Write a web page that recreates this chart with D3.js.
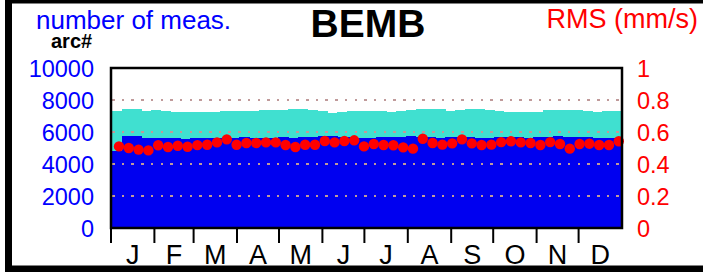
<!DOCTYPE html>
<html><head><meta charset="utf-8">
<script src="https://cdn.jsdelivr.net/npm/d3@7"></script>
<style>
html,body{margin:0;padding:0;background:#fff;}
svg{display:block;font-family:"Liberation Sans",Arial,sans-serif;}
</style></head>
<body>
<svg id="c" width="703" height="272"></svg>
<script>
// ---- data ----
const weeks = d3.range(1, 53);
const arcs = [7290,7460,7420,7300,7400,7330,7250,7250,7260,7230,7250,7330,7330,7290,7290,7350,7350,7370,7440,7440,7400,7290,7210,7260,7290,7290,7290,7290,7250,7340,7380,7440,7460,7420,7330,7350,7420,7420,7370,7300,7250,7250,7260,7270,7350,7400,7380,7350,7300,7280,7330,7330];
const meas = [4790,5730,5730,5600,5600,5650,5650,5580,5600,5620,5640,5620,5640,5660,5650,5640,5620,5660,5640,5660,5680,5720,5720,5700,5660,5650,5640,5660,5700,5700,5740,5700,5660,5650,5660,5700,5700,5650,5640,5660,5680,5660,5650,5660,5700,5720,5700,5680,5660,5650,5640,5600];
const rms = [0.510,0.500,0.490,0.485,0.517,0.506,0.514,0.508,0.518,0.520,0.535,0.554,0.520,0.531,0.531,0.535,0.535,0.519,0.506,0.520,0.520,0.544,0.535,0.544,0.548,0.510,0.525,0.519,0.517,0.504,0.496,0.558,0.531,0.521,0.529,0.554,0.529,0.519,0.521,0.537,0.542,0.535,0.531,0.519,0.537,0.525,0.496,0.525,0.527,0.519,0.519,0.542];
const monthLabels = ["J","F","M","A","M","J","J","A","S","O","N","D"];
const monthStartDays = [0,31,59,90,120,151,181,212,243,273,304,334];
const leftTicks = [0,2000,4000,6000,8000,10000];
const rightTicks = [0,0.2,0.4,0.6,0.8,1];
const gridTicks = [2000,4000,6000,8000];

// ---- layout ----
const L = 111, R = 622, T = 68, B = 228;
const svg = d3.select("#c");
const x = d3.scaleLinear().domain([0, 365]).range([L, R]);
const yL = d3.scaleLinear().domain([0, 10000]).range([B, T]);
const yR = d3.scaleLinear().domain([0, 1]).range([B, T]);
const wk0 = 0.63; // day offset of week boundaries

function barX0(i){ return x(i === 0 ? 0 : wk0 + 7 * i); }
function barX1(i){ return x(Math.min(365, wk0 + 7 * i + 7)); }
function dotX(i){ return x(wk0 + 7 * i + 5.07); }

svg.append("rect").attr("width",703).attr("height",272).attr("fill","#fff");

// bars
svg.append("g").attr("shape-rendering","crispEdges").selectAll("rect").data(weeks).join("rect")
  .attr("x",(d,i)=>barX0(i)).attr("width",(d,i)=>barX1(i)-barX0(i)+0.6)
  .attr("y",(d,i)=>yL(arcs[i])).attr("height",(d,i)=>B-yL(arcs[i]))
  .attr("fill","#40e0d0");
svg.append("g").attr("shape-rendering","crispEdges").selectAll("rect").data(weeks).join("rect")
  .attr("x",(d,i)=>barX0(i)).attr("width",(d,i)=>barX1(i)-barX0(i)+0.6)
  .attr("y",(d,i)=>yL(meas[i])).attr("height",(d,i)=>B-yL(meas[i]))
  .attr("fill","#0000f0");

// grid
svg.append("g").attr("shape-rendering","crispEdges").selectAll("line").data(gridTicks).join("line")
  .attr("x1",L+1).attr("x2",R).attr("y1",d=>yL(d)).attr("y2",d=>yL(d))
  .attr("stroke","#c09a9a").attr("stroke-width",2).attr("stroke-dasharray","2.5 7.2");

// dots
svg.append("g").selectAll("circle").data(weeks).join("circle")
  .attr("cx",(d,i)=>dotX(i)).attr("cy",(d,i)=>yR(rms[i])).attr("r",5.2)
  .attr("fill","#ff0000");

// plot frame
svg.append("rect").attr("x",L).attr("y",T).attr("width",R-L).attr("height",B-T)
  .attr("fill","none").attr("stroke","#000").attr("stroke-width",2.5);

// month ticks
svg.append("g").selectAll("line").data(monthStartDays).join("line")
  .attr("x1",d=>x(d)).attr("x2",d=>x(d)).attr("y1",B).attr("y2",243)
  .attr("stroke","#000").attr("stroke-width",2);
svg.append("g").selectAll("text").data(monthLabels).join("text")
  .attr("x",(d,i)=>(x(monthStartDays[i]) + x(i<11?monthStartDays[i+1]:365))/2)
  .attr("y",264).attr("text-anchor","middle").attr("font-size",27).attr("fill","#000")
  .text(d=>d);

// left axis
const axL = svg.append("g").attr("transform","translate(94,0)")
  .call(d3.axisLeft(yL).tickValues(leftTicks).tickSize(0).tickPadding(0).tickFormat(d3.format("d")));
axL.select(".domain").remove();
axL.selectAll("text").attr("fill","#0000ff").attr("font-size",23.5)
  .attr("font-family","Liberation Sans, Arial, sans-serif").attr("dy","0.36em");

// right axis
const axR = svg.append("g").attr("transform","translate(637,0)")
  .call(d3.axisRight(yR).tickValues(rightTicks).tickSize(0).tickPadding(0).tickFormat(d=>String(d)));
axR.select(".domain").remove();
axR.selectAll("text").attr("fill","#ff0000").attr("font-size",23.5)
  .attr("font-family","Liberation Sans, Arial, sans-serif").attr("dy","0.36em");

// titles
svg.append("text").attr("x",36).attr("y",29).attr("font-size",26).attr("fill","#0000ff").text("number of meas.");
svg.append("text").attr("x",51).attr("y",48).attr("font-size",20).attr("font-weight","bold").attr("fill","#000").text("arc#");
svg.append("text").attr("x",368).attr("y",37).attr("text-anchor","middle").attr("font-size",39).attr("font-weight","bold").attr("fill","#000").text("BEMB");
svg.append("text").attr("x",698).attr("y",28).attr("text-anchor","end").attr("font-size",27).attr("fill","#ff0000").text("RMS (mm/s)");

// outer frame
svg.append("rect").attr("x",8.5).attr("y",0).attr("width",800).attr("height",269)
  .attr("fill","none").attr("stroke","#000").attr("stroke-width",7);
</script>
</body></html>
